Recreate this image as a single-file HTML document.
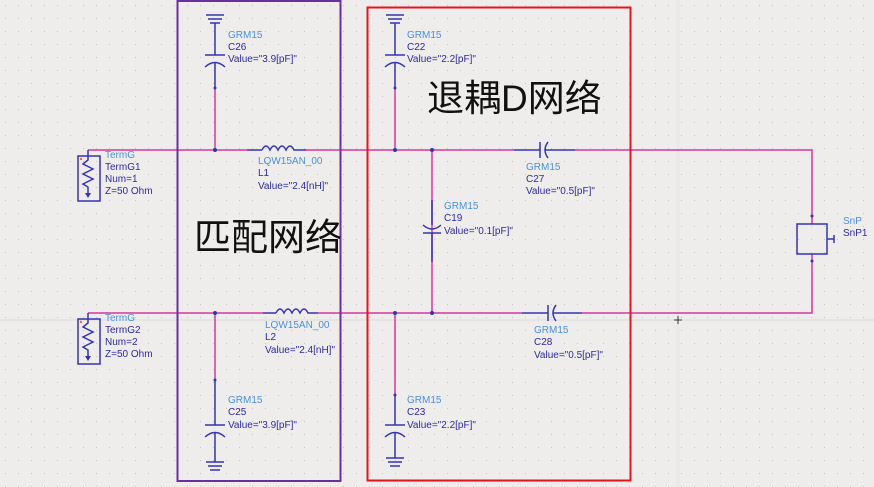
<!DOCTYPE html>
<html><head><meta charset="utf-8"><style>
html,body{margin:0;padding:0;background:#efedeb;}
svg{display:block}
text{font-family:"Liberation Sans",sans-serif;font-size:10px;fill:#2b2b9e}
.lb{fill:#4a90d9}
.cn{font-family:"Liberation Sans","Noto Sans CJK SC",sans-serif;font-size:37px;fill:#111}
</style></head><body>
<svg width="874" height="487" viewBox="0 0 874 487" xmlns="http://www.w3.org/2000/svg">
<defs>
<pattern id="g" width="13" height="13" patternUnits="userSpaceOnUse" x="5" y="5">
<rect x="0" y="0" width="1" height="1" fill="#c4c2c0"/>
</pattern>
</defs>
<rect width="874" height="487" fill="#efedeb"/>
<rect width="874" height="487" fill="url(#g)"/>
<line x1="0" y1="320" x2="874" y2="320" stroke="#dddbd9" stroke-width="1"/>
<line x1="678" y1="0" x2="678" y2="487" stroke="#e4e2e0" stroke-width="1"/>

<g stroke="#d5379e" stroke-width="1.5" fill="none">
<path d="M88 150 H247 M306 150 H514 M575 150 H812 V224"/>
<path d="M88 313 H263 M318 313 H522 M582 313 H812 V254"/>
<path d="M215 88 V150 M395 88 V150 M432 150 V313 M215 313 V380 M395 313 V395"/>
</g>

<g stroke="#3535b0" stroke-width="1.5" fill="none">
<path d="M206 15 H224 M208 19 H222 M210 23 H220 M215 23 V55 M205 55 H225 M205 67 Q215 58 225 67 M215 62 V88"/>
<path d="M386 15 H404 M388 19 H402 M390 23 H400 M395 23 V55 M385 55 H405 M385 67 Q395 58 405 67 M395 62 V88"/>
<path d="M215 380 V425 M205 425 H225 M205 437 Q215 428 225 437 M215 432 V462 M206 462 H224 M208 466 H222 M210 470 H220"/>
<path d="M395 395 V425 M385 425 H405 M385 437 Q395 428 405 437 M395 432 V458 M386 458 H404 M388 462 H402 M390 466 H400"/>
<path d="M432 200 V225 M423 225 Q432 233 441 225 M423 233 H441 M432 233 V262"/>
<path d="M514 150 H540 M540 142 V158 M548 142 Q542 150 548 158 M545 150 H575"/>
<path d="M522 313 H548 M548 305 V321 M556 305 Q550 313 556 321 M553 313 H582"/>
<path d="M247 150 H262 M262 150 q4 -8 8 0 q4 -8 8 0 q4 -8 8 0 q4 -8 8 0 H306"/>
<path d="M263 313 H276 M276 313 q4 -8 8 0 q4 -8 8 0 q4 -8 8 0 q4 -8 8 0 H318"/>
<rect x="78" y="156" width="22" height="45"/>
<path d="M88 150 V160 L83 164 L93 169 L83 174 L93 179 L83 184 L88 187 V196"/>
<rect x="78" y="319" width="22" height="45"/>
<path d="M88 313 V323 L83 327 L93 332 L83 337 L93 342 L83 347 L88 350 V359"/>
<rect x="797" y="224" width="30" height="30"/>
<path d="M827 239 H834 M834 235 V243"/>
</g>
<g fill="#3535b0">
<circle cx="215" cy="150" r="2"/><circle cx="395" cy="150" r="2"/><circle cx="432" cy="150" r="2"/>
<circle cx="215" cy="313" r="2"/><circle cx="395" cy="313" r="2"/><circle cx="432" cy="313" r="2"/>
<circle cx="215" cy="88" r="1.5"/><circle cx="395" cy="88" r="1.5"/><circle cx="215" cy="380" r="1.5"/><circle cx="395" cy="395" r="1.5"/>
<circle cx="812" cy="216" r="1.5"/><circle cx="812" cy="261" r="1.5"/>
<polygon points="85,193 91,193 88,198"/><polygon points="85,356 91,356 88,361"/>
</g>
<circle cx="81" cy="159" r="1.2" fill="#e07020"/><circle cx="81" cy="322" r="1.2" fill="#e07020"/>

<rect x="177.5" y="1" width="163" height="480" fill="none" stroke="#6a2fa0" stroke-width="2"/>
<rect x="367.5" y="7.5" width="263" height="473" fill="none" stroke="#e8141c" stroke-width="2"/>

<text x="105" y="158" class="lb">TermG</text><text x="105" y="170">TermG1</text><text x="105" y="182">Num=1</text><text x="105" y="194">Z=50 Ohm</text>
<text x="105" y="321" class="lb">TermG</text><text x="105" y="333">TermG2</text><text x="105" y="345">Num=2</text><text x="105" y="357">Z=50 Ohm</text>
<text x="228" y="38" class="lb">GRM15</text><text x="228" y="50">C26</text><text x="228" y="62">Value="3.9[pF]"</text>
<text x="407" y="38" class="lb">GRM15</text><text x="407" y="50">C22</text><text x="407" y="62">Value="2.2[pF]"</text>
<text x="258" y="164" class="lb">LQW15AN_00</text><text x="258" y="176">L1</text><text x="258" y="189">Value="2.4[nH]"</text>
<text x="265" y="328" class="lb">LQW15AN_00</text><text x="265" y="340">L2</text><text x="265" y="353">Value="2.4[nH]"</text>
<text x="526" y="170" class="lb">GRM15</text><text x="526" y="182">C27</text><text x="526" y="194">Value="0.5[pF]"</text>
<text x="444" y="209" class="lb">GRM15</text><text x="444" y="221">C19</text><text x="444" y="234">Value="0.1[pF]"</text>
<text x="534" y="333" class="lb">GRM15</text><text x="534" y="345">C28</text><text x="534" y="358">Value="0.5[pF]"</text>
<text x="228" y="403" class="lb">GRM15</text><text x="228" y="415">C25</text><text x="228" y="428">Value="3.9[pF]"</text>
<text x="407" y="403" class="lb">GRM15</text><text x="407" y="415">C23</text><text x="407" y="428">Value="2.2[pF]"</text>
<text x="843" y="224" class="lb">SnP</text><text x="843" y="236">SnP1</text>
<text x="427" y="111" class="cn">退耦D网络</text>
<text x="194" y="250" class="cn">匹配网络</text>
<path d="M674 320 H682 M678 316 V324" stroke="#333" stroke-width="1"/>
</svg>
</body></html>
